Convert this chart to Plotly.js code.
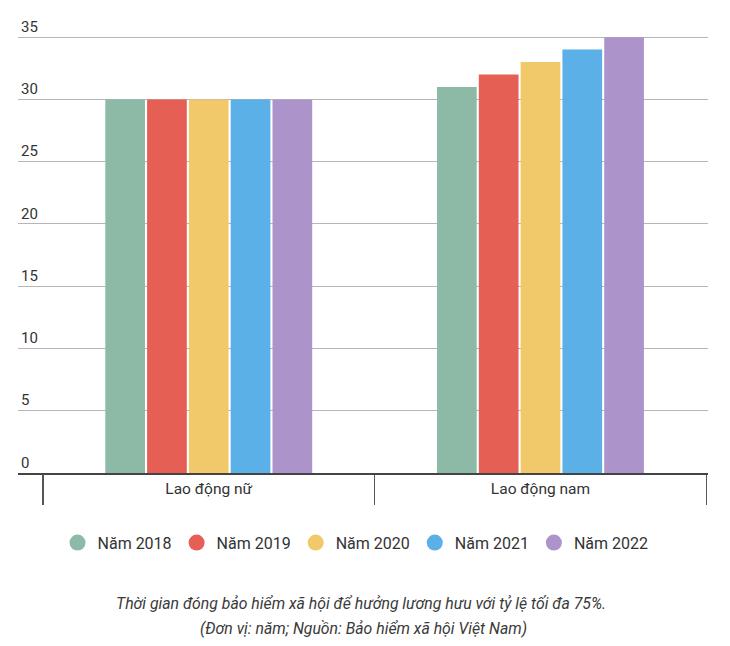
<!DOCTYPE html>
<html>
<head>
<meta charset="utf-8">
<script src="https://cdn.plot.ly/plotly-3.0.1.min.js"></script>
<style>
  html, body { margin: 0; padding: 0; background: #fff; }
  #chart { width: 730px; height: 646px; }
</style>
</head>
<body>
<div id="chart"></div>
<script>
// categories and series
const groups = ['Lao động nữ', 'Lao động nam'];
const years = ['Năm 2018', 'Năm 2019', 'Năm 2020', 'Năm 2021', 'Năm 2022'];
const values2018 = [30, 31];
const values2019 = [30, 32];
const values2020 = [30, 33];
const values2021 = [30, 34];
const values2022 = [30, 35];
const yTicks = [0, 5, 10, 15, 20, 25, 30, 35];

const colors = ['#8cbaa7', '#e65f55', '#f2c96a', '#5bb0e8', '#ac94cb'];
const series = [values2018, values2019, values2020, values2021, values2022];

const font = 'Roboto, "Noto Sans", sans-serif';

const traces = [];
series.forEach((vals, i) => {
  traces.push({
    type: 'bar',
    x: groups,
    y: vals,
    name: years[i],
    marker: { color: colors[i], line: { width: 0 } },
    showlegend: false,
    hoverinfo: 'y'
  });
});
// circle markers for the legend only (no visible point)
years.forEach((name, i) => {
  traces.push({
    type: 'scatter',
    mode: 'markers',
    x: [groups[0]],
    y: [null],
    name: name,
    marker: { color: colors[i], size: 20, symbol: 'circle' },
    showlegend: true,
    hoverinfo: 'skip'
  });
});

const layout = {
  width: 730,
  height: 646,
  margin: { l: 18, r: 22, t: 6, b: 173 },
  paper_bgcolor: '#fff',
  plot_bgcolor: '#fff',
  font: { family: font, size: 14, color: '#333' },
  barmode: 'group',
  bargap: 0.37,
  bargroupgap: 0.05,
  xaxis: {
    type: 'category',
    range: [-0.575, 1.505],
    tickson: 'boundaries',
    ticks: 'outside',
    ticklen: 30,
    tickwidth: 1.5,
    tickcolor: '#555',
    showline: true,
    linecolor: '#444',
    linewidth: 2,
    showgrid: false,
    tickfont: { size: 15.5, color: '#333' },
    fixedrange: true
  },
  yaxis: {
    range: [0, 37.5],
    tickvals: yTicks,
    ticktext: yTicks.map(String),
    ticklabelposition: 'inside top',
    showgrid: true,
    gridcolor: '#b8b4bb',
    gridwidth: 1,
    zeroline: false,
    ticks: '',
    tickfont: { size: 15, color: '#333' },
    fixedrange: true
  },
  legend: {
    orientation: 'h',
    x: 0.487,
    xanchor: 'center',
    xref: 'container',
    y: 0.16,
    yanchor: 'middle',
    yref: 'container',
    font: { size: 16, color: '#333' },
    tracegroupgap: 0
  },
  annotations: [
    {
      xref: 'paper', yref: 'paper', x: 0.497, y: -0.2805, xanchor: 'center', yanchor: 'middle',
      showarrow: false,
      text: '<i>Thời gian đóng bảo hiểm xã hội để hưởng lương hưu với tỷ lệ tối đa 75%.</i>',
      font: { size: 15.8, color: '#3a3a3a' }
    },
    {
      xref: 'paper', yref: 'paper', x: 0.5, y: -0.332, xanchor: 'center', yanchor: 'middle',
      showarrow: false,
      text: '<i>(Đơn vị: năm; Nguồn: Bảo hiểm xã hội Việt Nam)</i>',
      font: { size: 15.8, color: '#3a3a3a' }
    }
  ]
};

Plotly.newPlot('chart', traces, layout, { displayModeBar: false, staticPlot: true });
</script>
</body>
</html>
